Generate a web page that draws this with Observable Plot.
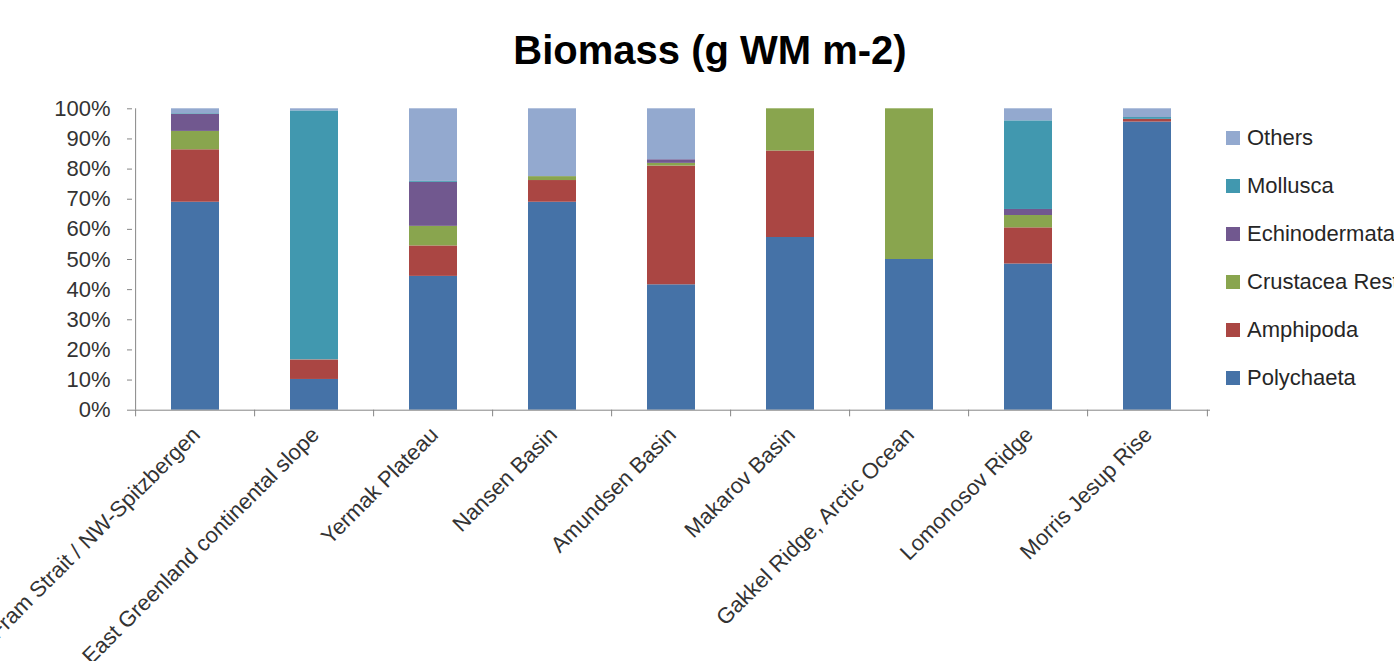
<!DOCTYPE html>
<html>
<head>
<meta charset="utf-8">
<script src="https://cdn.jsdelivr.net/npm/d3@7"></script>
<script src="https://cdn.jsdelivr.net/npm/@observablehq/plot@0.6"></script>
<style>
  html, body { margin: 0; padding: 0; background: #fff; overflow: hidden; }
  #wrap { position: relative; width: 1394px; height: 661px; overflow: hidden; font-family: "Liberation Sans", Arial, sans-serif; }
  #title { height: 90px; position: relative; }
  #title span { position: absolute; left: 0; width: 1420px; top: 30px; text-align: center; font-size: 40px; line-height: 40px; font-weight: bold; color: #000; }
  #legend { position: absolute; left: 1226px; top: 114px; }
  .item { display: flex; align-items: center; height: 48px; white-space: nowrap; }
  .sw { width: 14px; height: 14px; margin-right: 7px; flex: none; }
  .lab { font-size: 22px; color: #262626; }
</style>
</head>
<body>
<div id="wrap">
  <div id="title"><span>Biomass (g WM m-2)</span></div>
  <div id="chart"></div>
  <div id="legend"></div>
</div>
<script>
// Sampling regions along the x axis
const regions = [
  "Fram Strait / NW-Spitzbergen",
  "East Greenland continental slope",
  "Yermak Plateau",
  "Nansen Basin",
  "Amundsen Basin",
  "Makarov Basin",
  "Gakkel Ridge, Arctic Ocean",
  "Lomonosov Ridge",
  "Morris Jesup Rise"
];

// Taxonomic groups, in stacking order (bottom to top)
const groups = ["Polychaeta", "Amphipoda", "Crustacea Rest", "Echinodermata", "Mollusca", "Others"];

// Share of biomass (%) per region for each group
const polychaeta    = [69.0, 10.2, 44.4, 69.0, 41.6, 57.3, 50.0, 48.5, 95.6];
const amphipoda     = [17.4,  6.4, 10.1,  7.2, 39.4, 28.7,  0.0, 12.0,  0.9];
const crustaceaRest = [ 6.1,  0.1,  6.5,  1.3,  0.9, 14.0, 50.0,  4.1,  0.0];
const echinodermata = [ 5.7,  0.1, 14.6,  0.0,  1.2,  0.0,  0.0,  2.0,  0.0];
const mollusca      = [ 0.2, 82.5,  0.3,  0.0,  0.0,  0.0,  0.0, 29.4,  0.6];
const others        = [ 1.6,  0.7, 24.1, 22.5, 16.9,  0.0,  0.0,  4.0,  2.9];

const series = [polychaeta, amphipoda, crustaceaRest, echinodermata, mollusca, others];
const colors = ["#4572A7", "#AA4643", "#89A54E", "#71588F", "#4198AF", "#93A9CF"];
const yTicks = [0, 0.1, 0.2, 0.3, 0.4, 0.5, 0.6, 0.7, 0.8, 0.9, 1.0];

const table = regions.flatMap((region, i) =>
  groups.map((group, j) => ({region, group, value: series[j][i]}))
);

const width = 1394, height = 571;
const marginLeft = 132, marginRight = 184, marginTop = 18.3, marginBottom = 251.3;
const halfStep = (width - marginLeft - marginRight) / regions.length / 2;
const axisColor = "#868686";

const chart = Plot.plot({
  width, height, marginLeft, marginRight, marginTop, marginBottom,
  style: {fontFamily: "'Liberation Sans', Arial, sans-serif", fontSize: "22px", color: "#333", background: "#fff"},
  x: {domain: regions, paddingInner: 0.6, paddingOuter: 0.3, label: null},
  y: {domain: [0, 1], label: null},
  color: {domain: groups, range: colors},
  marks: [
    Plot.barY(table, Plot.stackY({
      x: "region", y: "value", fill: "group", order: groups, offset: "normalize"
    })),
    // axis lines
    Plot.ruleY([0], {stroke: axisColor}),
    Plot.ruleX([regions[0]], {y1: 0, y2: 1, dx: -halfStep, stroke: axisColor}),
    // category separator ticks below the x axis
    Plot.ruleX(regions, {y1: 0, y2: -0.022, dx: -halfStep, stroke: axisColor}),
    Plot.ruleX([regions[regions.length - 1]], {y1: 0, y2: -0.022, dx: halfStep, stroke: axisColor}),
    Plot.axisY({ticks: yTicks, tickFormat: d3.format(".0%"), tickSize: 5, tickPadding: 17, stroke: axisColor, fontSize: 22, fill: "#333"}),
    Plot.axisX({tickRotate: -45, tickSize: 0, tickPadding: 21, dx: 1, fontSize: 22, fill: "#333"})
  ]
});
document.getElementById("chart").appendChild(chart);

// Legend on the right, top item = top of stack
const legend = document.getElementById("legend");
const colorScale = chart.scale("color");
[...colorScale.domain].reverse().forEach((g) => {
  const item = document.createElement("div");
  item.className = "item";
  const sw = document.createElement("div");
  sw.className = "sw";
  sw.style.background = colorScale.range[colorScale.domain.indexOf(g)];
  const lab = document.createElement("span");
  lab.className = "lab";
  lab.textContent = g;
  item.append(sw, lab);
  legend.appendChild(item);
});
</script>
</body>
</html>
